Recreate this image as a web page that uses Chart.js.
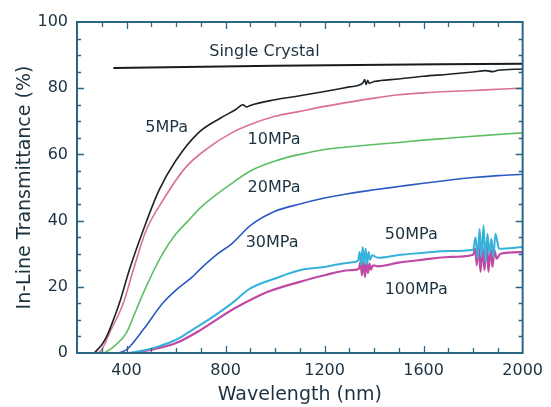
<!DOCTYPE html>
<html>
<head>
<meta charset="utf-8">
<script src="https://cdn.jsdelivr.net/npm/chart.js@4"></script>
<style>
  html, body { margin: 0; padding: 0; background: #fff; }
  canvas { display: block; }
</style>
</head>
<body>
<canvas id="chart1" width="551" height="407"></canvas>
<script>
// wavelength (nm) / in-line transmittance (%)
const wlSingle = [347, 1000, 2000];
const tSingle = [86.1, 86.8, 87.4];

const wl5 = [270, 300, 320, 347, 371, 411, 467, 530, 598, 690, 780, 840, 870, 885, 900, 1000, 1100, 1200, 1300, 1355, 1362, 1368, 1374, 1380, 1400, 1500, 1600, 1700, 1800, 1850, 1880, 1900, 2000];
const t5 = [0, 2.5, 5, 10, 15, 25, 37, 49, 58, 66.5, 71, 73.5, 75, 74.3, 74.8, 76.5, 77.7, 79, 80.4, 81.6, 82.6, 81.1, 82.4, 81.5, 82, 82.8, 83.6, 84.2, 84.9, 85.3, 85, 85.4, 85.8];

const wl10 = [285, 300, 331, 387, 427, 479, 546, 638, 730, 825, 900, 1000, 1100, 1200, 1300, 1400, 1500, 1600, 1700, 1800, 1900, 2000];
const t10 = [0, 1, 6, 15, 25, 37, 46, 56, 62, 66.5, 69, 71.5, 73, 74.5, 75.8, 77, 78, 78.6, 79, 79.3, 79.7, 80];

const wl20 = [310, 350, 399, 439, 479, 546, 600, 650, 700, 830, 900, 1000, 1100, 1200, 1300, 1400, 1500, 1600, 1700, 1800, 1900, 2000];
const t20 = [0, 2, 6, 13, 20, 30, 36, 40, 44, 51.5, 55, 58, 60, 61.5, 62.3, 63, 63.6, 64.3, 64.9, 65.5, 66, 66.5];

const wl30 = [370, 400, 467, 546, 600, 666, 700, 769, 825, 900, 1000, 1100, 1200, 1300, 1400, 1500, 1600, 1700, 1800, 1900, 2000];
const t30 = [0, 1, 7, 15, 19, 23, 25.5, 30, 33, 38.5, 42.8, 45, 46.8, 48.2, 49.3, 50.3, 51.3, 52.2, 53, 53.6, 54];

const wl50 = [410, 450, 530, 600, 666, 750, 825, 900, 1000, 1100, 1200, 1300, 1335, 1342, 1348, 1354, 1360, 1366, 1372, 1378, 1384, 1392, 1415, 1500, 1600, 1700, 1800, 1810, 1818, 1826, 1834, 1842, 1850, 1858, 1866, 1874, 1882, 1890, 1905, 2000];
const t50 = [0, 0.5, 2, 4, 7, 11, 15, 19.5, 22.5, 25, 26, 27.3, 27.8, 30.5, 26.5, 32, 27, 31.5, 26.8, 30.5, 28.2, 29.5, 28.8, 29.6, 30.3, 30.8, 31.2, 35, 28.5, 37.5, 29, 38.5, 27.5, 36, 30, 34.5, 29, 36, 31.5, 32];

const wl100 = [420, 500, 600, 700, 825, 900, 968, 1100, 1200, 1300, 1338, 1345, 1351, 1357, 1363, 1369, 1375, 1381, 1387, 1395, 1415, 1500, 1600, 1700, 1800, 1808, 1815, 1822, 1830, 1838, 1846, 1854, 1862, 1870, 1878, 1886, 1895, 1910, 2000];
const t100 = [0, 1, 3, 7, 13, 16, 18.4, 21.5, 23.5, 25, 25.4, 27.5, 23.5, 28, 23, 27.5, 24.2, 27, 25.2, 26.5, 26.2, 27.3, 28.2, 29, 29.7, 31.5, 26.5, 33, 24.5, 32, 25, 33.5, 24.5, 32, 26, 31, 28.5, 30, 30.5];

const xTickVals = [400, 800, 1200, 1600, 2000];
const yTickVals = [0, 20, 40, 60, 80, 100];

// curve labels, placed in data units
const labelTexts = ['Single Crystal', '5MPa', '10MPa', '20MPa', '30MPa', '50MPa', '100MPa'];
const labelX = [957, 562, 996, 996, 988, 1550, 1570];
const labelY = [91, 68, 64.4, 49.8, 33.2, 35.6, 19];

const axisColor = '#2b6684';
const textColor = '#1c3240';
const fontFamily = '"DejaVu Sans", sans-serif';

function pts(xs, ys) {
  return xs.map((v, i) => ({ x: v, y: ys[i] }));
}

function line(label, xs, ys, color, width) {
  return {
    label: label,
    data: pts(xs, ys),
    borderColor: color,
    backgroundColor: color,
    borderWidth: width,
    pointRadius: 0,
    fill: false,
    cubicInterpolationMode: 'monotone',
  };
}

const frameTicks = {
  id: 'frameTicks',
  afterDatasetsDraw(chart) {
    const ctx = chart.ctx;
    const a = chart.chartArea;
    const x = chart.scales.x;
    const y = chart.scales.y;
    ctx.save();
    ctx.strokeStyle = axisColor;
    ctx.lineWidth = 1.3;
    ctx.beginPath();
    for (let v = 300; v <= 1900; v += 100) {
      const px = Math.round(x.getPixelForValue(v)) + 0.5;
      const len = v % 400 === 0 ? 7 : 5;
      ctx.moveTo(px, a.bottom); ctx.lineTo(px, a.bottom - len);
      ctx.moveTo(px, a.top); ctx.lineTo(px, a.top + len);
    }
    for (let v = 5; v < 100; v += 5) {
      const py = Math.round(y.getPixelForValue(v)) + 0.5;
      const len = v % 20 === 0 ? 7 : 4;
      ctx.moveTo(a.left, py); ctx.lineTo(a.left + len, py);
      ctx.moveTo(a.right, py); ctx.lineTo(a.right - len, py);
    }
    ctx.stroke();
    ctx.lineWidth = 2;
    ctx.strokeRect(a.left, a.top, a.width, a.height);
    ctx.restore();
  },
  afterDraw(chart) {
    const ctx = chart.ctx;
    const x = chart.scales.x;
    const y = chart.scales.y;
    ctx.save();
    ctx.fillStyle = textColor;
    ctx.font = '16px ' + fontFamily;
    ctx.textAlign = 'center';
    ctx.textBaseline = 'middle';
    labelTexts.forEach((t, i) => {
      ctx.fillText(t, x.getPixelForValue(labelX[i]), y.getPixelForValue(labelY[i]));
    });
    ctx.restore();
  },
};

const ctx1 = document.getElementById('chart1').getContext('2d');
const chart1 = new Chart(ctx1, {
  type: 'line',
  data: {
    datasets: [
      line('Single Crystal', wlSingle, tSingle, '#161c20', 2),
      line('5MPa', wl5, t5, '#1b2328', 1.6),
      line('10MPa', wl10, t10, '#d9728c', 1.6),
      line('20MPa', wl20, t20, '#5dbf63', 1.6),
      line('30MPa', wl30, t30, '#2b5ac4', 1.6),
      line('50MPa', wl50, t50, '#36b2da', 2),
      line('100MPa', wl100, t100, '#c049a6', 2.2),
    ],
  },
  options: {
    responsive: false,
    animation: false,
    devicePixelRatio: 1,
    layout: { padding: { left: 0, top: 22, right: 22, bottom: 0 } },
    plugins: {
      legend: { display: false },
      tooltip: { enabled: false },
    },
    scales: {
      x: {
        type: 'linear',
        min: 200,
        max: 2000,
        afterBuildTicks: (scale) => { scale.ticks = xTickVals.map(v => ({ value: v })); },
        afterFit: (scale) => { scale.height = 54; },
        grid: { display: false, drawTicks: false },
        border: { display: false },
        ticks: {
          color: textColor,
          font: { family: fontFamily, size: 16 },
          padding: 8,
          maxRotation: 0,
          autoSkip: false,
          callback: (v) => String(v),
        },
        title: {
          display: true,
          text: 'Wavelength (nm)',
          color: textColor,
          font: { family: fontFamily, size: 19 },
          padding: { top: 0, bottom: 1 },
        },
      },
      y: {
        min: 0,
        max: 100,
        afterBuildTicks: (scale) => { scale.ticks = yTickVals.map(v => ({ value: v })); },
        afterFit: (scale) => { scale.width = 77; },
        grid: { display: false, drawTicks: false },
        border: { display: false },
        ticks: {
          color: textColor,
          font: { family: fontFamily, size: 16 },
          padding: 9,
          autoSkip: false,
          callback: (v) => String(v),
        },
        title: {
          display: true,
          text: 'In-Line Transmittance (%)',
          color: textColor,
          font: { family: fontFamily, size: 19 },
          padding: { top: 14, bottom: 0 },
        },
      },
    },
  },
  plugins: [frameTicks],
});
</script>
</body>
</html>
